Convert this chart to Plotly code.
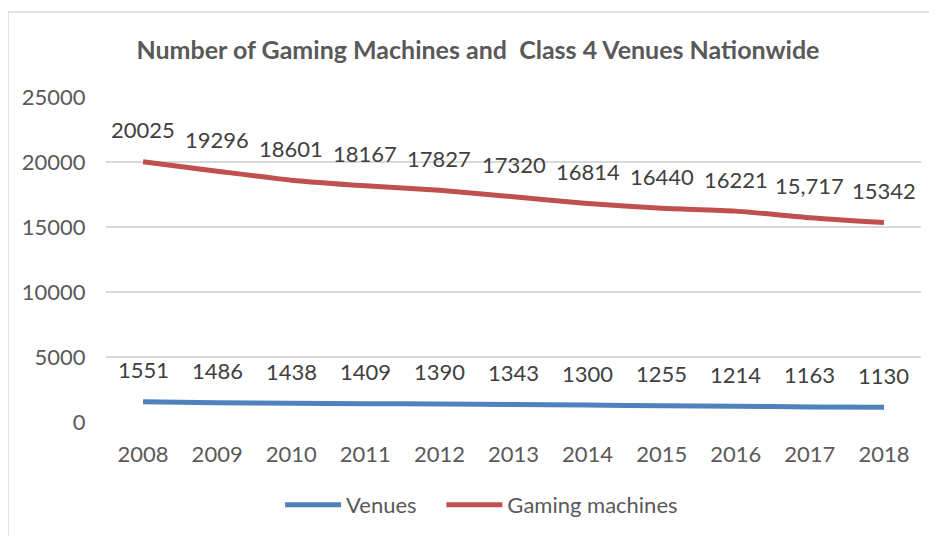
import plotly.graph_objects as go

years = ["2008", "2009", "2010", "2011", "2012", "2013", "2014", "2015", "2016", "2017", "2018"]
venues = [1551, 1486, 1438, 1409, 1390, 1343, 1300, 1255, 1214, 1163, 1130]
gaming = [20025, 19296, 18601, 18167, 17827, 17320, 16814, 16440, 16221, 15717, 15342]
venues_labels = ["1551", "1486", "1438", "1409", "1390", "1343", "1300", "1255", "1214", "1163", "1130"]
gaming_labels = ["20025", "19296", "18601", "18167", "17827", "17320", "16814", "16440", "16221", "15,717", "15342"]
y_ticks = [0, 5000, 10000, 15000, 20000, 25000]
title_text = "Number of Gaming Machines and\u00a0 Class 4 Venues Nationwide"

FONT = "Lato, 'Open Sans', sans-serif"
BLUE = "#4f81bd"
RED = "#c0504d"
FS = 22

fig = go.Figure()
fig.add_trace(go.Scatter(x=years, y=venues, name="Venues", mode="lines", legend="legend",
                         line=dict(color=BLUE, width=5, shape="spline", smoothing=0.6)))
fig.add_trace(go.Scatter(x=years, y=gaming, name="Gaming machines", mode="lines", legend="legend2",
                         line=dict(color=RED, width=5, shape="spline", smoothing=0.6)))

annotations = []
for ys, labels in ((venues, venues_labels), (gaming, gaming_labels)):
    for i, (yv, lab) in enumerate(zip(ys, labels)):
        annotations.append(dict(x=i, y=yv, text=lab, showarrow=False, yshift=32,
                                xanchor="center", yanchor="middle",
                                font=dict(family=FONT, size=FS, color="#404040")))

legend_style = dict(orientation="h", xanchor="left", y=-0.255, yanchor="middle",
                    font=dict(family=FONT, size=FS, color="#595959"), itemwidth=56,
                    bgcolor="rgba(0,0,0,0)")

fig.update_layout(
    width=937, height=536,
    margin=dict(l=98, r=24, t=89, b=122),
    paper_bgcolor="white", plot_bgcolor="white",
    title=dict(text=title_text, x=0.5016, xanchor="center", y=1 - 42 / 536, yanchor="middle",
               xref="container", yref="container",
               font=dict(family=FONT, size=25, color="#595959", weight="bold")),
    font=dict(family=FONT, size=FS, color="#595959"),
    showlegend=True,
    legend=dict(x=0.2136, **legend_style),
    legend2=dict(x=0.4115, **legend_style),
    annotations=annotations,
    shapes=[
        dict(type="line", xref="paper", yref="paper", x0=-0.1202, x1=-0.1202, y0=1.2615, y1=-0.4,
             line=dict(color="#d9d9d9", width=1.5)),
        dict(type="line", xref="paper", yref="paper", x0=-0.1202, x1=1.05, y0=1.2615, y1=1.2615,
             line=dict(color="#d9d9d9", width=1.5)),
    ],
)
fig.update_xaxes(type="category", range=[-0.5, 10.5], autorange=False,
                 showgrid=False, showline=False, zeroline=False,
                 ticks="outside", ticklen=13, tickcolor="rgba(0,0,0,0)",
                 tickfont=dict(family=FONT, size=FS, color="#595959"))
fig.update_yaxes(range=[0, 25000], tickvals=y_ticks, ticktext=[str(v) for v in y_ticks],
                 showgrid=True, gridcolor="#d9d9d9", gridwidth=1.5, zeroline=False, showline=False,
                 ticks="outside", ticklen=15, tickcolor="rgba(0,0,0,0)",
                 tickfont=dict(family=FONT, size=FS, color="#595959"))

fig.write_html("out.html")
